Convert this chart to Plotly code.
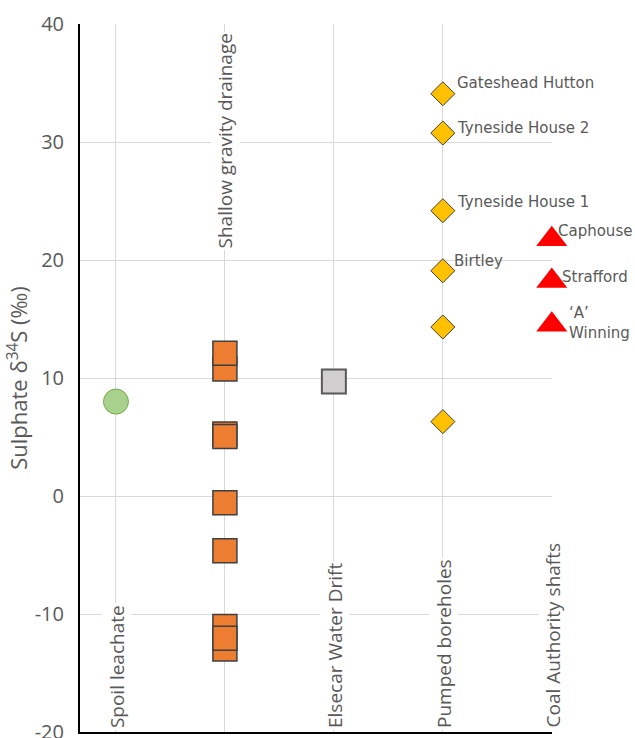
import plotly.graph_objects as go

# Category positions along the x axis
categories = ["Spoil leachate", "Shallow gravity drainage", "Elsecar Water Drift",
              "Pumped boreholes", "Coal Authority shafts"]
cat_pos = [1, 2, 3, 4, 5]

# Sulphate δ34S values (‰) per group
spoil_leachate = [8.0]
shallow_drainage = [10.77, 12.10, 5.26, 5.04, -0.58, -4.65, -11.06, -12.96, -12.05]
elsecar_drift = [9.71]
pumped_boreholes = [34.09, 30.76, 24.18, 19.09, 14.32, 6.30]
pumped_names = ["Gateshead Hutton", "Tyneside House 2", "Tyneside House 1", "Birtley", "", ""]
ca_shafts = [21.76, 18.23, 14.52]
ca_names = ["Caphouse", "Strafford", "‘A’<br>Winning"]

y_ticks = [-20, -10, 0, 10, 20, 30, 40]
y_tick_text = ["-20", "-10", "0", "10", "20", "30", "40"]

GREY_TEXT = "#595959"
GRID = "#D9D9D9"

fig = go.Figure()

fig.add_trace(go.Scatter(
    x=[cat_pos[0]] * len(spoil_leachate), y=spoil_leachate, mode="markers",
    marker=dict(symbol="circle", size=25, color="#A9D18E",
                line=dict(color="#70AD47", width=1)),
    showlegend=False, hoverinfo="y"))

fig.add_trace(go.Scatter(
    x=[cat_pos[1]] * len(shallow_drainage), y=shallow_drainage, mode="markers",
    marker=dict(symbol="square", size=24, color="#ED7D31",
                line=dict(color="#3F3F3F", width=1.5)),
    showlegend=False, hoverinfo="y"))

fig.add_trace(go.Scatter(
    x=[cat_pos[2]] * len(elsecar_drift), y=elsecar_drift, mode="markers",
    marker=dict(symbol="square", size=24, color="#D0CECE",
                line=dict(color="#595959", width=2)),
    showlegend=False, hoverinfo="y"))

fig.add_trace(go.Scatter(
    x=[cat_pos[3]] * len(pumped_boreholes), y=pumped_boreholes, mode="markers",
    marker=dict(symbol="diamond", size=18.5, color="#FFC000",
                line=dict(color="#404040", width=1)),
    showlegend=False, hoverinfo="y", cliponaxis=False))

fig.add_trace(go.Scatter(
    x=[cat_pos[4]] * len(ca_shafts), y=ca_shafts, mode="markers",
    marker=dict(symbol="triangle-up", size=27, color="#FF0000",
                line=dict(width=0)),
    showlegend=False, hoverinfo="y", cliponaxis=False))

annotations = []

# Rotated group labels drawn inside the plot
for i, (name, xp) in enumerate(zip(categories, cat_pos)):
    if i == 1:
        annotations.append(dict(x=xp, y=39.4, xref="x", yref="y", text=name,
                                textangle=-90, showarrow=False, xanchor="center",
                                yanchor="top", bgcolor="white", xshift=0,
                                font=dict(family="Open Sans", size=19, color=GREY_TEXT)))
    else:
        annotations.append(dict(x=xp, y=-19.8, xref="x", yref="y", text=name,
                                textangle=-90, showarrow=False, xanchor="center",
                                yanchor="bottom", bgcolor="white", xshift=1,
                                font=dict(family="Open Sans", size=19, color=GREY_TEXT)))

# Point labels
label_font = dict(family="DejaVu Sans", size=15, color=GREY_TEXT)
pumped_shift = [(12, 11), (12, 5), (12, 9), (9, 10)]
for val, name, (dx, dy) in zip(pumped_boreholes, pumped_names, pumped_shift):
    if name:
        annotations.append(dict(x=cat_pos[3], y=val, xref="x", yref="y", text=name,
                                showarrow=False, xanchor="left", yanchor="middle",
                                xshift=dx, yshift=dy, font=label_font))

ca_shift = [(4, 8), (8, 4), (15, 2)]
for val, name, (dx, dy) in zip(ca_shafts, ca_names, ca_shift):
    annotations.append(dict(x=cat_pos[4], y=val, xref="x", yref="y", text=name,
                            showarrow=False, xanchor="left", yanchor="middle", align="left",
                            xshift=dx, yshift=dy, font=label_font))

fig.update_layout(
    width=635, height=738,
    margin=dict(l=80, r=83, t=24, b=6),
    paper_bgcolor="white", plot_bgcolor="white",
    annotations=annotations,
    xaxis=dict(range=[0.67, 5.002], tickvals=cat_pos, showticklabels=False,
               showgrid=True, gridcolor=GRID, gridwidth=1, zeroline=False,
               showline=True, linecolor="black", linewidth=2, ticks="",
               automargin=False),
    yaxis=dict(range=[-20, 40], tickvals=y_ticks, ticktext=y_tick_text,
               showgrid=True, gridcolor=GRID,
               gridwidth=1, zeroline=False, showline=True, linecolor="black",
               linewidth=2, ticks="", ticklabelstandoff=10, ticklabeloverflow="allow",
               automargin=False,
               tickfont=dict(family="Open Sans", size=20, color=GREY_TEXT),
               title=dict(text="Sulphate δ<sup>34</sup>S (‰)", standoff=1,
                          font=dict(family="Open Sans", size=22, color=GREY_TEXT))),
)

fig.write_html("out.html")
